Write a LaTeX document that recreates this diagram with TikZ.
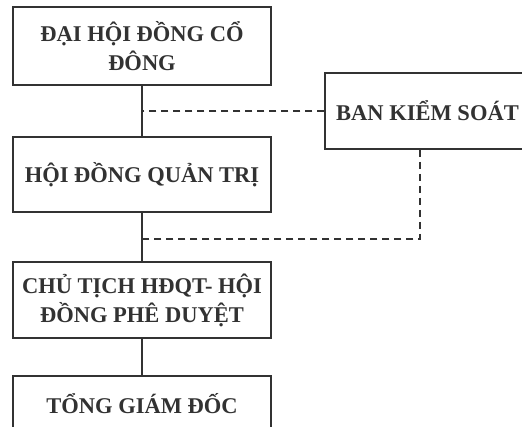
\documentclass[tikz,border=0pt]{standalone}
\usepackage{fontspec}
\setmainfont{Liberation Serif}
\usetikzlibrary{positioning}

\definecolor{inkgray}{RGB}{50,50,50}
\tikzset{every picture/.style={line width=1.5pt}}
\tikzset{
  orgbox/.style={draw=inkgray, text=inkgray, minimum width=258pt, align=center,
    inner sep=0pt, font=\fontsize{22.5}{29}\selectfont\bfseries},
  link/.style={draw=inkgray, line width=1.3pt},
  dashlink/.style={draw=inkgray, line width=1.3pt, dash pattern=on 7pt off 5pt}
}

\begin{document}
\begin{tikzpicture}[x=1pt,y=-1pt]
\useasboundingbox (0,0) rectangle (522,426);
\clip (0,0) rectangle (522,426);
\fill[white] (0,0) rectangle (522,426);

% boxes
\node [orgbox, minimum height=78pt] (dhcd) at (142,46) {ĐẠI HỘI ĐỒNG CỔ\\ĐÔNG};
\node [orgbox, minimum height=75pt] (hdqt) at (142,174.5) {HỘI ĐỒNG QUẢN TRỊ};
\node [orgbox, minimum height=76pt] (ctch) at (142,300) {CHỦ TỊCH HĐQT- HỘI\\ĐỒNG PHÊ DUYỆT};
\node [orgbox, minimum height=56pt] (tgd) at (142,404) {TỔNG GIÁM ĐỐC};
\node [orgbox, minimum width=205pt, minimum height=76pt] (bks) at (427.5,111) {BAN KIỂM SOÁT};

% solid links
\draw [link] (dhcd) -- (hdqt);
\draw [link] (hdqt) -- (ctch);
\draw [link] (ctch) -- (tgd);

% dashed links
\coordinate (bksfoot) at ([xshift=-7.5pt]bks.south);
\coordinate (jct) at (142,239);
\draw [dashlink] (bks.west) -- (bks.west -| dhcd.south);
\draw [dashlink] (bksfoot) |- (jct);

\end{tikzpicture}
\end{document}
